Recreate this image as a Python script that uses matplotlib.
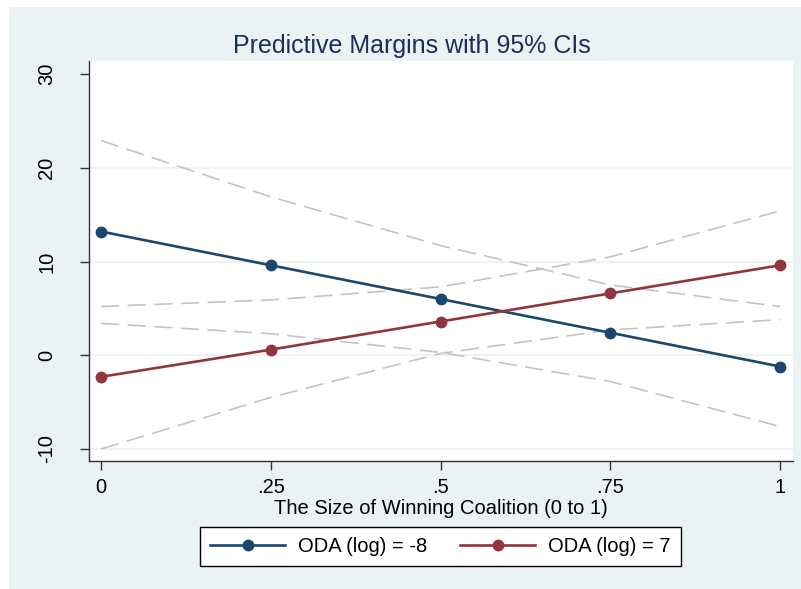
import matplotlib.pyplot as plt
import matplotlib.patches as mpatches
import numpy as np

plt.rcParams['font.family'] = ['Liberation Sans', 'DejaVu Sans']

# data
x = [0, 0.25, 0.5, 0.75, 1]
xlabels = ['0', '.25', '.5', '.75', '1']
ylabels = [-10, 0, 10, 20, 30]

blue_y = [13.2, 9.6, 6.0, 2.4, -1.2]
blue_hi = [22.9, 16.9, 11.7, 7.5, 5.2]
blue_lo = [3.4, 2.3, 0.3, -2.8, -7.6]

red_y = [-2.3, 0.6, 3.6, 6.6, 9.6]
red_hi = [5.2, 5.9, 7.3, 10.5, 15.4]
red_lo = [-10.0, -4.5, 0.2, 2.7, 3.8]

navy = '#1A476F'
maroon = '#90353B'
panel = '#EAF2F3'
ci_col = '#C4C4C4'

fig = plt.figure(figsize=(8.01, 5.89), dpi=100)
fig.patch.set_facecolor('white')
# outer shaded graph region
fig.add_artist(mpatches.Rectangle((9/801, -0.01), 1.1, 1.01 - 7/589, transform=fig.transFigure,
                                  facecolor=panel, edgecolor='none', zorder=0))

ax = fig.add_axes([89/801, 128/589, 704/801, 400/589])
ax.set_facecolor('white')

for v in ylabels[:-1]:
    ax.axhline(v, color=panel, lw=1.5, zorder=1)

dash = (0, (11, 5))
for series in [blue_hi, blue_lo, red_hi, red_lo]:
    ax.plot(x, series, color=ci_col, lw=1.2, linestyle=dash, zorder=2)

ax.plot(x, blue_y, color=navy, lw=1.9, marker='o', markersize=7.5, zorder=3,
        label='ODA (log) = -8')
ax.plot(x, red_y, color=maroon, lw=1.9, marker='o', markersize=7.5, zorder=3,
        label='ODA (log) = 7')

ax.set_xlim(-0.0177, 1.019)
ax.set_ylim(-11.28, 31.39)
ax.set_xticks(x)
ax.set_xticklabels(xlabels)
ax.set_yticks(ylabels)
ax.set_yticklabels([str(v) for v in ylabels], rotation=90, va='center')

for s in ['top', 'right']:
    ax.spines[s].set_visible(False)
for s in ['left', 'bottom']:
    ax.spines[s].set_color('#333333')
    ax.spines[s].set_linewidth(1.0)

ax.tick_params(axis='both', direction='out', length=6.5, width=1.0, color='#333333',
               labelsize=14.5, labelcolor='black')
ax.tick_params(axis='y', pad=17)
ax.tick_params(axis='x', pad=6)

ax.set_xlabel('The Size of Winning Coalition (0 to 1)', fontsize=14.5, labelpad=1)

fig.text(412/801, (589-53)/589, 'Predictive Margins with 95% CIs', fontsize=18,
         color='#1C2E5A', ha='center', va='baseline')

leg = fig.legend(loc='center', bbox_to_anchor=(440.5/801, (589-546.5)/589), ncol=2,
                 fontsize=14.5, handlelength=3.7, handletextpad=0.65, columnspacing=1.65,
                 borderpad=0.5, frameon=True, fancybox=False)
leg.get_frame().set_edgecolor('black')
leg.get_frame().set_linewidth(1.0)
leg.get_frame().set_facecolor('white')
leg.get_frame().set_alpha(1)

fig.savefig('out.png', dpi=100)
